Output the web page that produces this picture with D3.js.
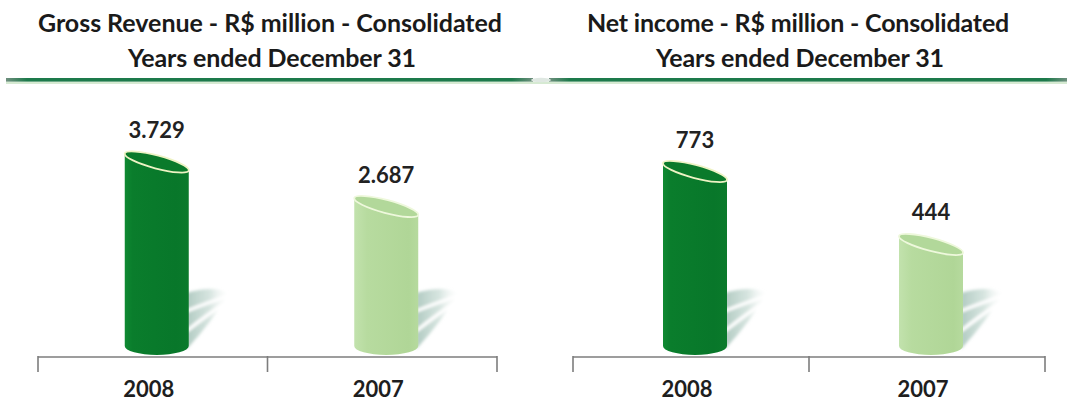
<!DOCTYPE html>
<html>
<head>
<meta charset="utf-8">
<script src="https://cdn.jsdelivr.net/npm/d3@7"></script>
<style>
  html, body { margin: 0; padding: 0; background: #ffffff; }
  svg { display: block; }
</style>
</head>
<body>
<svg id="chart" width="1067" height="403"></svg>
<script>
// ---- data ----
const categories = ["2008", "2007"];
const revenueValues = [3729, 2687];
const revenueLabels = ["3.729", "2.687"];
const incomeValues = [773, 444];
const incomeLabels = ["773", "444"];
const revenueTitle = ["Gross Revenue - R$ million - Consolidated", "Years ended December 31"];
const incomeTitle = ["Net  income - R$ million - Consolidated", "Years ended December 31"];

const W = 1067, H = 403;
const svg = d3.select("#chart");
const defs = svg.append("defs");

function hGrad(id, stops, vertical) {
  const g = defs.append("linearGradient").attr("id", id)
    .attr("x1", 0).attr("x2", vertical ? 0 : 1).attr("y1", 0).attr("y2", vertical ? 1 : 0);
  stops.forEach(s => g.append("stop").attr("offset", s[0]).attr("stop-color", s[1]).attr("stop-opacity", s[2] == null ? 1 : s[2]));
}
hGrad("darkBody", [[0, "#0f8a32"], [0.12, "#0a7d2c"], [0.8, "#08772a"], [1, "#0a7a2b"]]);
hGrad("lightBody", [[0, "#c2e2ad"], [0.2, "#b7db9f"], [0.85, "#b0d697"], [1, "#b6da9e"]]);
hGrad("shadowGrad", [[0, "#9dbdb2", 0.8], [0.55, "#b5cfc6", 0.55], [1, "#e8f0ec", 0]]);
hGrad("lineGrad", [[0, "#6f8f7e"], [0.04, "#1d7a4b"], [0.96, "#1d7a4b"], [1, "#6f8f7e"]]);
defs.append("filter").attr("id", "soft").attr("x", "-20%").attr("y", "-20%").attr("width", "140%").attr("height", "140%")
  .append("feGaussianBlur").attr("stdDeviation", 1.6);

// header line
const lineY = 80;
svg.append("rect").attr("x", 6).attr("y", lineY + 1.5).attr("width", W - 6).attr("height", 2.5).attr("fill", "#d6ead2");
svg.append("rect").attr("x", 6).attr("y", lineY - 2).attr("width", 527).attr("height", 3.6).attr("fill", "url(#lineGrad)");
svg.append("rect").attr("x", 549).attr("y", lineY - 2).attr("width", W - 549).attr("height", 3.6).attr("fill", "url(#lineGrad)");
svg.append("ellipse").attr("cx", 541).attr("cy", lineY).attr("rx", 10).attr("ry", 2.2).attr("fill", "#dfe8e2");

const panels = [
  { title: revenueTitle, values: revenueValues, labels: revenueLabels, x0: 38, x1: 497, domain: [-577, 3729], topPx: 162, titleX: 270, titleW: 464 },
  { title: incomeTitle, values: incomeValues, labels: incomeLabels, x0: 573, x1: 1045, domain: [-14, 773], topPx: 171.5, titleX: 798, titleW: 422 }
];
const fills = ["url(#darkBody)", "url(#lightBody)"];
const rims = ["#eef3c4", "#eef8dc"];
const topFills = ["#0a7a2b", "#b2d89a"];

const baseY = 346;
const axisY = 357;
const barW = 64;
const tilt = 8.5;
const bottomRy = 9;

const fontFam = "Lato, 'Open Sans', sans-serif";
const titleSize = 25;

function fitText(sel, targetW) {
  const n = sel.text().length;
  const w = sel.node().getComputedTextLength();
  sel.attr("letter-spacing", ((targetW - w) / n).toFixed(3));
}

panels.forEach(p => {
  const g = svg.append("g");
  const t1 = g.append("text").attr("x", p.titleX).attr("y", 32).attr("text-anchor", "middle")
    .attr("font-family", fontFam).attr("font-weight", 700).attr("font-size", titleSize).attr("fill", "#1a1a1a")
    .text(p.title[0]);
  fitText(t1, p.titleW);
  const t2 = g.append("text").attr("x", p.titleX + 2).attr("y", 67).attr("text-anchor", "middle")
    .attr("font-family", fontFam).attr("font-weight", 700).attr("font-size", titleSize).attr("fill", "#1a1a1a")
    .text(p.title[1]);
  fitText(t2, 288);

  const x = d3.scaleBand().domain(categories).range([p.x0, p.x1]).paddingInner(0).paddingOuter(0);
  const y = d3.scaleLinear().domain(p.domain).range([baseY, p.topPx]);

  const edges = [p.x0].concat(categories.map(c => x(c) + x.bandwidth()));
  g.append("line").attr("x1", p.x0).attr("x2", p.x1).attr("y1", axisY).attr("y2", axisY)
    .attr("stroke", "#7d7d7d").attr("stroke-width", 1.6);
  g.selectAll("line.tick").data(edges).join("line").attr("class", "tick")
    .attr("x1", d => d).attr("x2", d => d).attr("y1", axisY - 1).attr("y2", axisY + 15)
    .attr("stroke", "#7d7d7d").attr("stroke-width", 1.6);
  g.selectAll("text.cat").data(categories).join("text").attr("class", "cat")
    .attr("x", d => x(d) + x.bandwidth() / 2 - 4).attr("y", 397).attr("text-anchor", "middle")
    .attr("font-family", fontFam).attr("font-weight", 700).attr("font-size", 22).attr("fill", "#1e1e1e")
    .text(d => d);

  categories.forEach((c, i) => {
    const cx = x(c) + x.bandwidth() / 2 + 4;
    const bx0 = cx - barW / 2, bx1 = cx + barW / 2;
    const yc = y(p.values[i]);
    const yL = yc - tilt, yR = yc + tilt;
    const ang = Math.atan2(2 * tilt, barW) * 180 / Math.PI;
    const a = Math.sqrt((barW / 2) ** 2 + tilt ** 2);
    const b = 6.5;
    const yb = baseY + bottomRy;

    const sg = g.append("g").attr("filter", "url(#soft)");
    sg.append("path")
      .attr("d", `M${bx1 - 2},${yb - 62} Q${bx1 + 24},${yb - 70} ${bx1 + 40},${yb - 62} Q${bx1 + 24},${yb - 34} ${bx1 - 2},${yb - 6} Z`)
      .attr("fill", "url(#shadowGrad)");
    sg.append("path")
      .attr("d", `M${bx1 - 2},${yb - 44} Q${bx1 + 18},${yb - 52} ${bx1 + 42},${yb - 60}`)
      .attr("fill", "none").attr("stroke", "#ffffff").attr("stroke-width", 3.4);
    sg.append("path")
      .attr("d", `M${bx1 - 2},${yb - 24} Q${bx1 + 18},${yb - 40} ${bx1 + 42},${yb - 56}`)
      .attr("fill", "none").attr("stroke", "#ffffff").attr("stroke-width", 3.4);

    const d = `M${bx0},${yL} L${bx0},${baseY} A${barW / 2},${bottomRy} 0 0 0 ${bx1},${baseY} L${bx1},${yR} A${a},${b} ${ang} 0 0 ${bx0},${yL} Z`;
    g.append("path").attr("d", d).attr("fill", fills[i]);
    g.append("ellipse").attr("cx", cx).attr("cy", yc).attr("rx", a).attr("ry", b)
      .attr("transform", `rotate(${ang},${cx},${yc})`)
      .attr("fill", topFills[i]).attr("stroke", rims[i]).attr("stroke-width", 1.8);

    g.append("text").attr("x", cx).attr("y", yc - 24).attr("text-anchor", "middle")
      .attr("font-family", fontFam).attr("font-weight", 700).attr("font-size", 22).attr("fill", "#222")
      .text(p.labels[i]);
  });
});
</script>
</body>
</html>
